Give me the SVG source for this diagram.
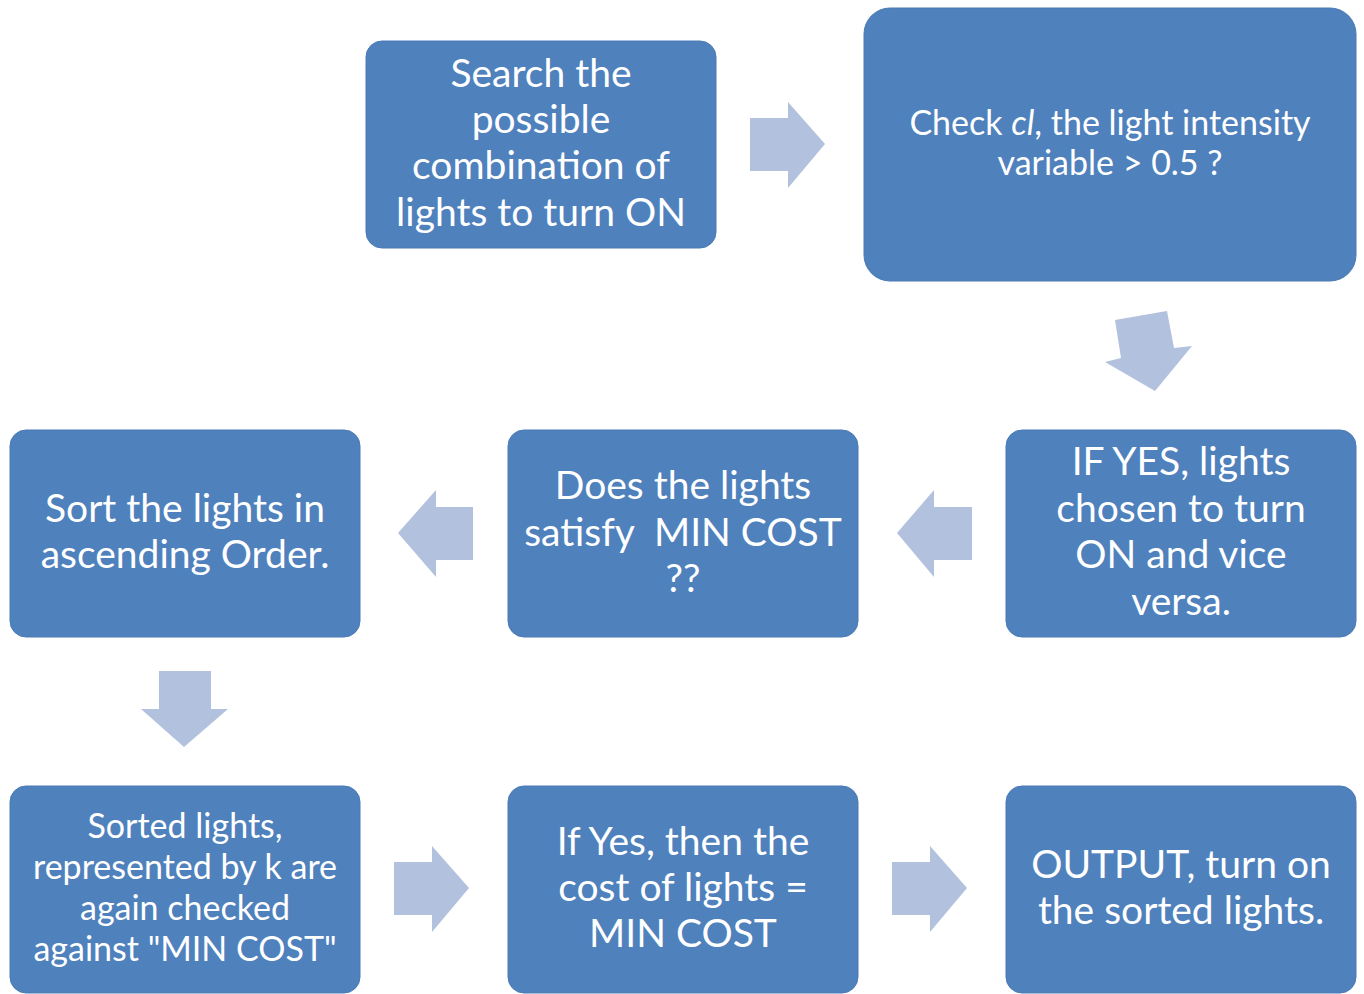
<svg xmlns="http://www.w3.org/2000/svg" width="1364" height="994" viewBox="0 0 1364 994">
<style>
.box{fill:#4F81BD;stroke:#4A7AB5;stroke-width:1}
.arr{fill:#B2C1DD}
.t{font-family:Lato,"Liberation Sans",sans-serif;fill:#FFFFFF;text-anchor:middle;font-size:39px}
.s{font-size:34px}
</style>
<rect width="1364" height="994" fill="#FFFFFF"/>
<g id="connectors">
<polygon class="arr" points="750,118 788,118 788,102 825,144 788,188 788,171 750,171"/>
<polygon class="arr" points="1115,320 1167,311 1174,348 1192,346 1155,391 1105,362 1121,358"/>
<polygon class="arr" points="972,507 934,507 934,490 897,533 934,577 934,560 972,560"/>
<polygon class="arr" points="473,507 436,507 436,490 398,533 436,577 436,560 473,560"/>
<polygon class="arr" points="159,671 211,671 211,709 228,709 184,747 141,709 159,709"/>
<polygon class="arr" points="394,862 432,862 432,846 469,888 432,932 432,915 394,915"/>
<polygon class="arr" points="892,862 930,862 930,846 967,888 930,932 930,915 892,915"/>
</g>
<g id="n1">
<rect class="box" x="366" y="41" width="350" height="207" rx="16"/>
<text class="t"><tspan x="541" y="87">Search the</tspan><tspan x="541" y="133">possible</tspan><tspan x="541" y="179">combination of</tspan><tspan x="541" y="226">lights to turn ON</tspan></text>
</g>
<g id="n2">
<rect class="box" x="864" y="8" width="492" height="273" rx="26"/>
<text class="t s"><tspan x="1110" y="135">Check <tspan font-style="italic">cl</tspan>, the light intensity</tspan><tspan x="1110" y="175">variable &gt; 0.5 ?</tspan></text>
</g>
<g id="n3">
<rect class="box" x="1006" y="430" width="350" height="207" rx="16"/>
<text class="t"><tspan x="1181" y="475">IF YES, lights</tspan><tspan x="1181" y="522">chosen to turn</tspan><tspan x="1181" y="568">ON and vice</tspan><tspan x="1181" y="615">versa.</tspan></text>
</g>
<g id="n4">
<rect class="box" x="508" y="430" width="350" height="207" rx="16"/>
<text class="t"><tspan x="683" y="499">Does the lights</tspan><tspan x="683" y="546" xml:space="preserve">satisfy  MIN COST</tspan><tspan x="683" y="592">??</tspan></text>
</g>
<g id="n5">
<rect class="box" x="10" y="430" width="350" height="207" rx="16"/>
<text class="t"><tspan x="185" y="522">Sort the lights in</tspan><tspan x="185" y="568">ascending Order.</tspan></text>
</g>
<g id="n6">
<rect class="box" x="10" y="786" width="350" height="207" rx="16"/>
<text class="t s"><tspan x="185" y="838">Sorted lights,</tspan><tspan x="185" y="879">represented by k are</tspan><tspan x="185" y="920">again checked</tspan><tspan x="185" y="961">against "MIN COST"</tspan></text>
</g>
<g id="n7">
<rect class="box" x="508" y="786" width="350" height="207" rx="16"/>
<text class="t"><tspan x="683" y="855">If Yes, then the</tspan><tspan x="683" y="901">cost of lights =</tspan><tspan x="683" y="947">MIN COST</tspan></text>
</g>
<g id="n8">
<rect class="box" x="1006" y="786" width="350" height="207" rx="16"/>
<text class="t"><tspan x="1181" y="878">OUTPUT, turn on</tspan><tspan x="1181" y="924">the sorted lights.</tspan></text>
</g>
</svg>
